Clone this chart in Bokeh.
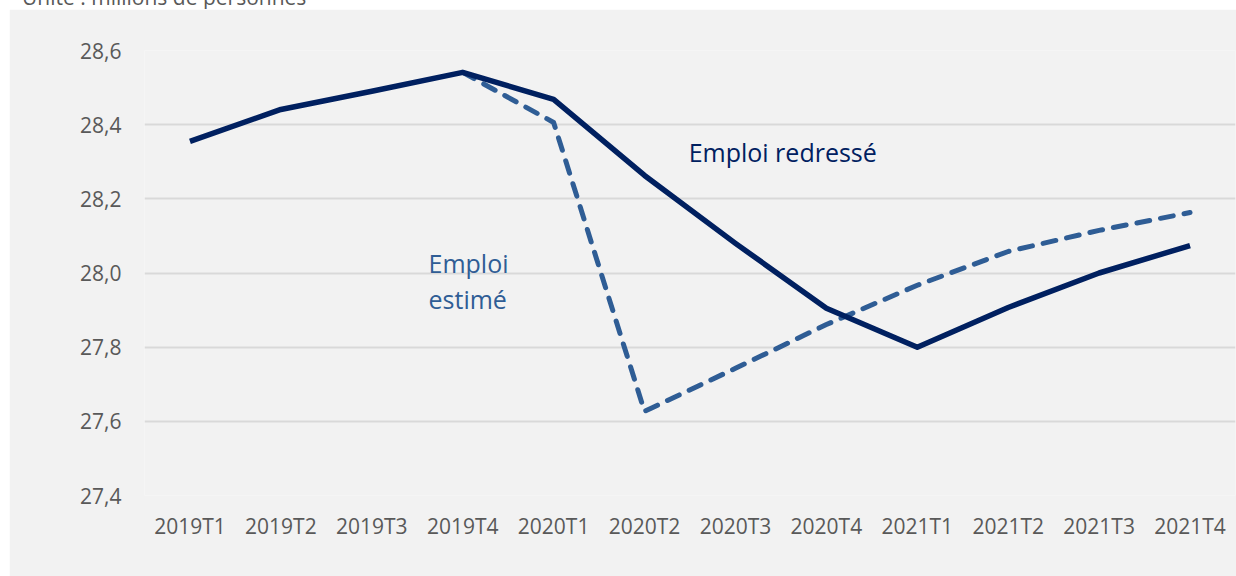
from bokeh.plotting import figure
from bokeh.models import Range1d, FactorRange, FixedTicker, Label, Div
from bokeh.layouts import column
from bokeh.embed import file_html
from bokeh.resources import INLINE

quarters = ["2019T1", "2019T2", "2019T3", "2019T4", "2020T1", "2020T2",
            "2020T3", "2020T4", "2021T1", "2021T2", "2021T3", "2021T4"]
emploi_redresse = [28.355, 28.441, 28.490, 28.541, 28.468, 28.263,
                   28.080, 27.905, 27.800, 27.907, 28.000, 28.074]
emploi_estime = [float("nan"), float("nan"), float("nan"), 28.541, 28.406, 27.627,
                 27.743, 27.861, 27.967, 28.058, 28.115, 28.163]
y_ticks = [27.4, 27.6, 27.8, 28.0, 28.2, 28.4, 28.6]
y_tick_labels = ["27,4", "27,6", "27,8", "28,0", "28,2", "28,4", "28,6"]

FONT = "Open Sans"
GRAY_BG = "#f2f2f2"
DARK = "#002060"
MID = "#2f5d95"

p = figure(width=1227, height=567, output_backend="svg", toolbar_location=None,
           x_range=FactorRange(*quarters, range_padding=0),
           y_range=Range1d(27.4, 28.6),
           min_border_left=135, min_border_right=1, min_border_top=41, min_border_bottom=81)
p.margin = (0, 0, 0, 9)
p.border_fill_color = GRAY_BG
p.background_fill_color = GRAY_BG
p.outline_line_color = None

p.yaxis.ticker = FixedTicker(ticks=y_ticks)
p.yaxis.major_label_overrides = {t: l for t, l in zip(y_ticks, y_tick_labels)}
for ax in (p.xaxis, p.yaxis):
    ax.axis_line_color = None
    ax.major_tick_line_color = None
    ax.minor_tick_line_color = None
    ax.major_label_text_font = FONT
    ax.major_label_text_font_size = "21px"
    ax.major_label_text_color = "#595959"
p.yaxis.major_label_standoff = 17
p.xaxis.major_label_standoff = 10
p.xgrid.grid_line_color = None
p.ygrid.grid_line_color = "#d9d9d9"
p.ygrid.grid_line_width = 2

p.line(quarters, emploi_estime, line_color=MID, line_width=5,
       line_dash="13 11", line_cap="round", line_join="round")
p.line(quarters, emploi_redresse, line_color=DARK, line_width=5.5,
       line_join="round")

p.add_layout(Label(x=5.985, y=28.325, text="Emploi redressé", text_font=FONT,
                   text_font_size="25px", text_color=DARK, text_baseline="alphabetic"))
p.add_layout(Label(x=3.124, y=28.026, text="Emploi", text_font=FONT,
                   text_font_size="25px", text_color=MID, text_baseline="alphabetic"))
p.add_layout(Label(x=3.124, y=27.929, text="estimé", text_font=FONT,
                   text_font_size="25px", text_color=MID, text_baseline="alphabetic"))

unit = Div(text='<div style="position:relative; top:-13px; left:22px; font-family:\'Open Sans\'; '
                'font-size:21px; line-height:21px; color:#595959; white-space:nowrap;">'
                'Unité : millions de personnes</div>',
           width=1236, height=9, margin=0, styles={"overflow": "hidden"})

layout = column(unit, p, spacing=0)
open("out.html", "w").write(file_html(layout, INLINE))
